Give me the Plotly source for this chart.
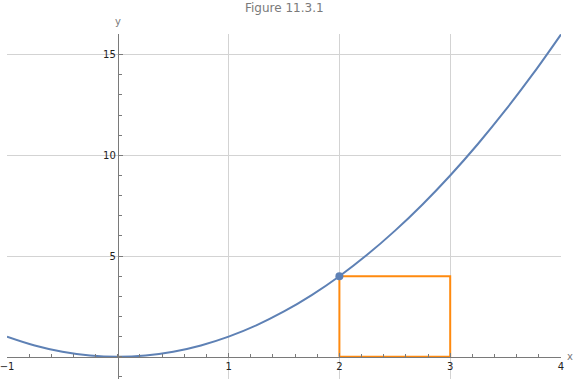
import plotly.graph_objects as go

# curve values (y = x^2 shape)
curve_x = [-1, -0.75, -0.5, -0.25, 0, 0.25, 0.5, 0.75, 1, 1.25, 1.5, 1.75,
           2, 2.25, 2.5, 2.75, 3, 3.25, 3.5, 3.75, 4]
curve_y = [1, 0.5625, 0.25, 0.0625, 0, 0.0625, 0.25, 0.5625, 1, 1.5625, 2.25, 3.0625,
           4, 5.0625, 6.25, 7.5625, 9, 10.5625, 12.25, 14.0625, 16]

point_x = [2]
point_y = [4]

rect_x = [2, 3, 3, 2, 2]
rect_y = [0, 0, 4, 4, 0]

x_ticks = [-1, 1, 2, 3, 4]
x_tick_labels = ["\u22121", "1", "2", "3", "4"]
y_ticks = [5, 10, 15]
y_tick_labels = ["5", "10", "15"]

title_text = "Figure 11.3.1"

X_RANGE = [-1, 4]
Y_RANGE = [-1.1, 16.02]

BLUE = "#5E81B5"
ORANGE = "#FF8A0F"
GRID = "#d3d3d3"
AXIS = "#7a7a7a"
FONT = "DejaVu Sans"

fig = go.Figure()
fig.add_trace(go.Scatter(x=rect_x, y=rect_y, mode="lines",
                         line=dict(color=ORANGE, width=2), hoverinfo="skip"))
fig.add_trace(go.Scatter(x=curve_x, y=curve_y, mode="lines",
                         line=dict(color=BLUE, width=2, shape="spline"), hoverinfo="skip"))
fig.add_trace(go.Scatter(x=point_x, y=point_y, mode="markers",
                         marker=dict(color=BLUE, size=8), hoverinfo="skip"))

xpos = (0 - Y_RANGE[0]) / (Y_RANGE[1] - Y_RANGE[0])
ypos = (0 - X_RANGE[0]) / (X_RANGE[1] - X_RANGE[0])

fig.update_layout(
    width=576, height=379,
    margin=dict(l=7, r=15, t=34, b=0),
    paper_bgcolor="white", plot_bgcolor="white",
    showlegend=False,
    font=dict(family=FONT, size=10, color="#222"),
    xaxis=dict(range=X_RANGE, anchor="free", position=xpos, automargin=False,
               tickvals=x_ticks, ticktext=x_tick_labels, ticklabeloverflow="allow",
               showgrid=True, gridcolor=GRID, gridwidth=1, zeroline=False,
               showline=True, linecolor=AXIS, linewidth=1,
               ticks="inside", ticklen=4, tickcolor=AXIS,
               minor=dict(dtick=0.2, tick0=0, ticks="inside", ticklen=3,
                          tickcolor=AXIS, showgrid=False),
               tickfont=dict(family=FONT, size=10, color="#222")),
    yaxis=dict(range=Y_RANGE, anchor="free", position=ypos, automargin=False,
               tickvals=y_ticks, ticktext=y_tick_labels, ticklabeloverflow="allow",
               showgrid=True, gridcolor=GRID, gridwidth=1, zeroline=False,
               showline=True, linecolor=AXIS, linewidth=1,
               ticks="inside", ticklen=4, tickcolor=AXIS,
               minor=dict(dtick=1, tick0=0, ticks="inside", ticklen=3,
                          tickcolor=AXIS, showgrid=False),
               tickfont=dict(family=FONT, size=10, color="#222")),
)

fig.add_annotation(text=title_text, xref="paper", yref="paper", x=0.5, y=1, yshift=26,
                   xanchor="center", yanchor="middle", showarrow=False,
                   font=dict(family=FONT, size=12, color="#7a7a7a"))
fig.add_annotation(text="y", xref="x", yref="paper", x=0, y=1, yshift=5,
                   xanchor="center", yanchor="bottom", showarrow=False,
                   font=dict(family=FONT, size=10, color="#7a7a7a"))
fig.add_annotation(text="x", xref="paper", yref="y", x=1, y=0, xshift=4,
                   xanchor="left", yanchor="middle", showarrow=False,
                   font=dict(family=FONT, size=10, color="#7a7a7a"))

fig.write_html("out.html", config={"displayModeBar": False},
               post_script="document.body.style.margin='0';document.body.style.padding='0';")
